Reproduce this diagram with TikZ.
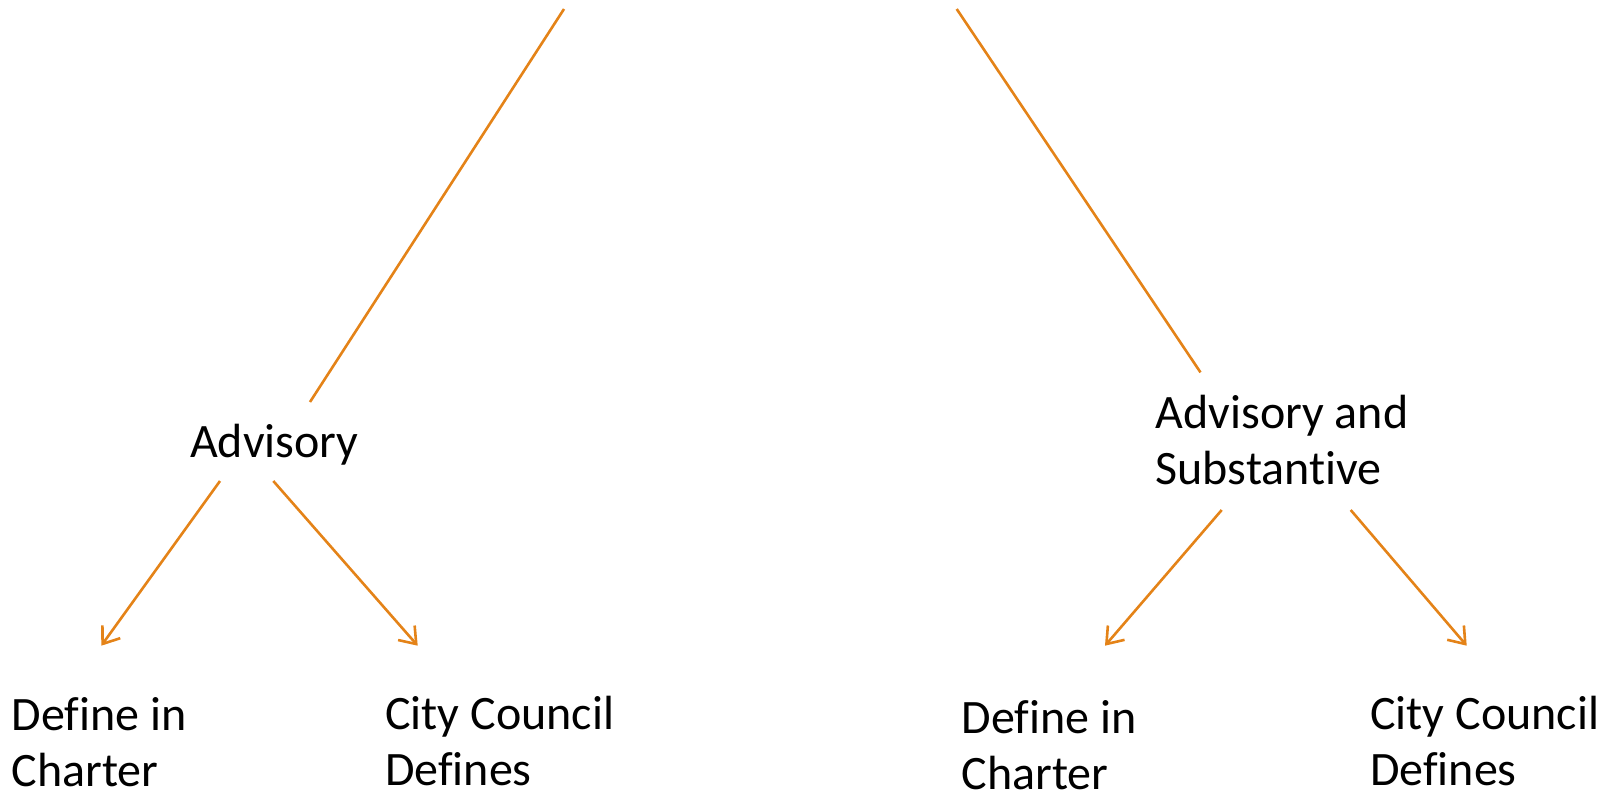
\documentclass[tikz,border=0pt]{standalone}
\usepackage{fontspec}
\setmainfont{Carlito}[Ligatures=NoCommon]
\usetikzlibrary{arrows.meta}
\definecolor{lineorange}{RGB}{228,131,24}
\tikzset{
  lbl/.style={inner sep=0pt, anchor=base west, align=left, text=black,
    font=\fontsize{48bp}{56.5bp}\selectfont},
  lowlbl/.style={lbl, text depth=0pt},
  conn/.style={draw=lineorange, line width=2.6bp},
  arr/.style={conn, -{Straight Barb[length=15bp, width=22bp, line width=2.6bp]}}
}
\begin{document}
\begin{tikzpicture}[x=1bp, y=-1bp]
\useasboundingbox (0,0) rectangle (1613,792);
% labels (base anchor = baseline of last line)
\node[lbl] (adv) at (190,457) {Advisory};
\node[lbl] (advsub) at (1155.5,484.5) {Advisory and\\Substantive};
\node[lowlbl] (dl1) at (11.5,786.5) {Define in\\Charter};
\node[lowlbl] (cc1) at (385,785.5) {City Council\\Defines};
\node[lowlbl] (dl2) at (961.5,789.5) {Define in\\Charter};
\node[lowlbl] (cc2) at (1370,785.5) {City Council\\Defines};
% connector ends
\coordinate (topL) at (564,9);
\coordinate (advTop) at (310,402);
\coordinate (topR) at (956.7,9);
\coordinate (advsubTop) at (1200.5,372.4);
\coordinate (advL) at (220,481);
\coordinate (advR) at (273.3,481);
\coordinate (dl1Tip) at (101.3,645.7);
\coordinate (cc1Tip) at (417.7,645.7);
\coordinate (advsubL) at (1221.7,510);
\coordinate (advsubR) at (1350.7,510);
\coordinate (dl2Tip) at (1105,645.7);
\coordinate (cc2Tip) at (1466.7,645.7);
% connectors
\draw[conn] (topL) -- (advTop);
\draw[conn] (topR) -- (advsubTop);
\draw[arr] (advL) -- (dl1Tip);
\draw[arr] (advR) -- (cc1Tip);
\draw[arr] (advsubL) -- (dl2Tip);
\draw[arr] (advsubR) -- (cc2Tip);
\end{tikzpicture}
\end{document}
